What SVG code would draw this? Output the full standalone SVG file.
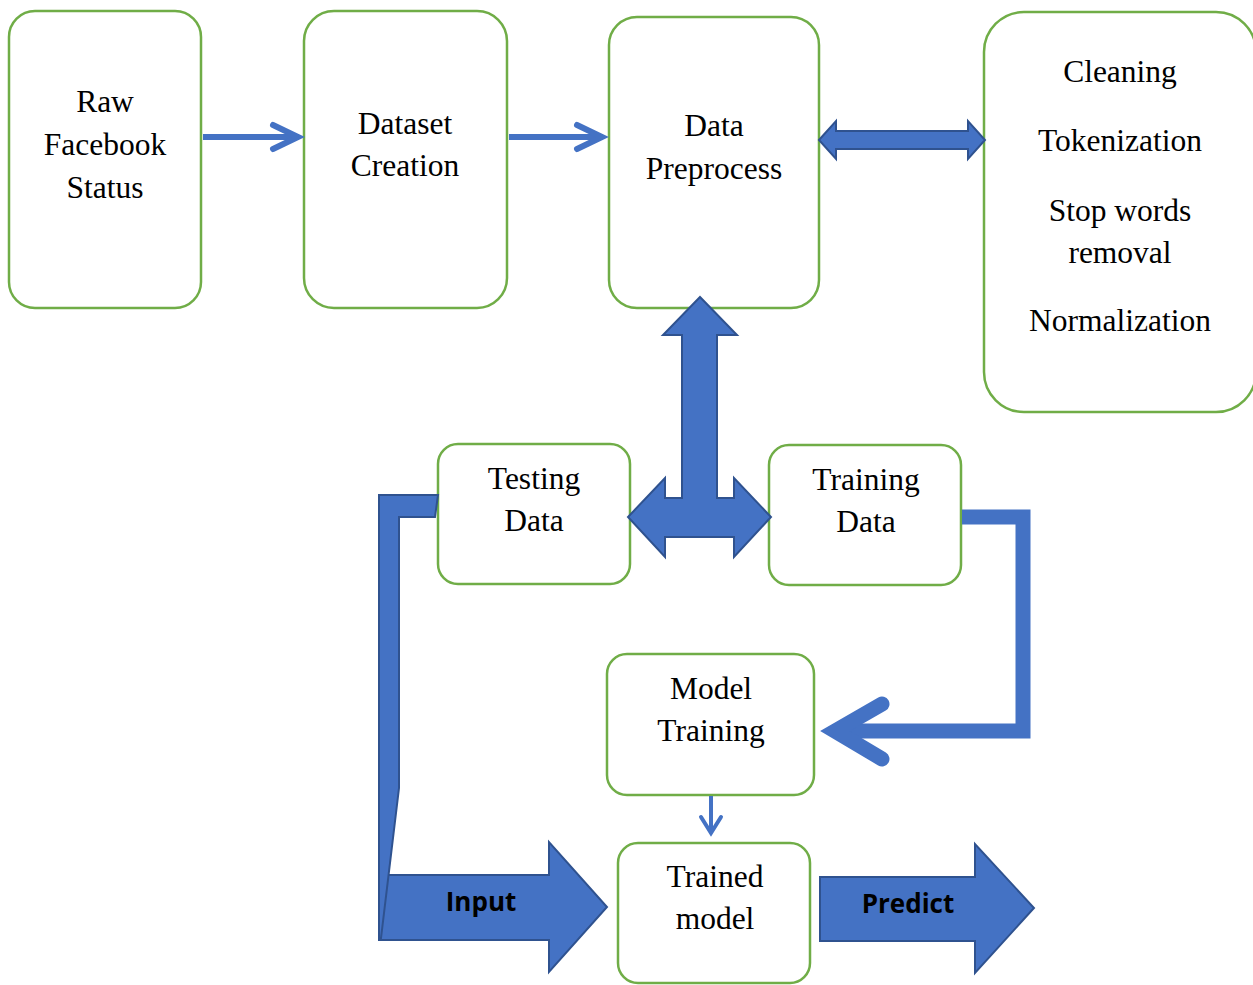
<svg xmlns="http://www.w3.org/2000/svg" width="1253" height="985" viewBox="0 0 1253 985">
<defs>
<style>
.box{fill:#ffffff;stroke:#70AD47;stroke-width:2.5}
.t{font-family:"Liberation Serif","Times New Roman",serif;font-size:31.5px;fill:#000;text-anchor:middle}
.blk{fill:#4472C4;stroke:#2F528F;stroke-width:2;stroke-linejoin:miter}
.ln{fill:none;stroke:#4472C4;stroke-linejoin:miter}
.head{stroke-linecap:round}
.shaft{stroke-linecap:butt}
.lbl{font-family:"Open Sans","Liberation Sans",sans-serif;font-weight:700;font-size:26px;fill:#000;text-anchor:middle}
</style>
</defs>
<rect width="1253" height="985" fill="#ffffff"/>

<g id="raw">
  <rect class="box" x="9" y="11" width="192" height="297" rx="26"/>
  <text class="t" x="105" y="112">Raw</text>
  <text class="t" x="105" y="155">Facebook</text>
  <text class="t" x="105" y="198">Status</text>
</g>
<g id="dataset">
  <rect class="box" x="304" y="11" width="203" height="297" rx="30"/>
  <text class="t" x="405" y="134">Dataset</text>
  <text class="t" x="405" y="176">Creation</text>
</g>
<g id="preprocess">
  <rect class="box" x="609" y="17" width="210" height="291" rx="28"/>
  <text class="t" x="714" y="136">Data</text>
  <text class="t" x="714" y="179">Preprocess</text>
</g>
<g id="steps">
  <rect class="box" x="984" y="12" width="272" height="400" rx="40"/>
  <text class="t" x="1120" y="82">Cleaning</text>
  <text class="t" x="1120" y="151">Tokenization</text>
  <text class="t" x="1120" y="221">Stop words</text>
  <text class="t" x="1120" y="263">removal</text>
  <text class="t" x="1120" y="331">Normalization</text>
</g>
<g id="testing">
  <rect class="box" x="438" y="444" width="192" height="140" rx="20"/>
  <text class="t" x="534" y="489">Testing</text>
  <text class="t" x="534" y="531">Data</text>
</g>
<g id="training">
  <rect class="box" x="769" y="445" width="192" height="140" rx="20"/>
  <text class="t" x="866" y="490">Training</text>
  <text class="t" x="866" y="532">Data</text>
</g>
<g id="modeltraining">
  <rect class="box" x="607" y="654" width="207" height="141" rx="20"/>
  <text class="t" x="711" y="699">Model</text>
  <text class="t" x="711" y="741">Training</text>
</g>
<g id="trained">
  <rect class="box" x="618" y="843" width="192" height="140" rx="20"/>
  <text class="t" x="715" y="887">Trained</text>
  <text class="t" x="715" y="929">model</text>
</g>

<g id="connectors">
  <!-- Raw -> Dataset -->
  <line class="ln shaft" x1="203" y1="137" x2="298" y2="137" stroke-width="6"/>
  <polyline class="ln head" points="273,125 298,137 273,149" stroke-width="6" stroke-linejoin="round"/>
  <!-- Dataset -> Preprocess -->
  <line class="ln shaft" x1="509" y1="137" x2="602" y2="137" stroke-width="6"/>
  <polyline class="ln head" points="577,125 602,137 577,149" stroke-width="6" stroke-linejoin="round"/>
  <!-- Preprocess <-> Steps -->
  <polygon class="blk" points="819,140 836,121 836,131 968,131 968,121 985,140 968,159 968,149 836,149 836,159"/>
  <!-- T-shaped triple arrow -->
  <polygon class="blk" points="700,297 737,335 717,335 717,498 734,498 734,478 771,517 734,557 734,537 665,537 665,557 628,517 665,478 665,498 682,498 682,335 663,335"/>
  <!-- Training -> Model Training -->
  <polyline class="ln shaft" points="962,517 1023,517 1023,731 836,731" stroke-width="15"/>
  <polyline class="ln head" points="882,704 835,731 882,759" stroke-width="15"/>
  <!-- Model Training -> Trained model -->
  <line class="ln shaft" x1="711" y1="796" x2="711" y2="833" stroke-width="4"/>
  <polyline class="ln head" points="701,817 711,833 721,817" stroke-width="4"/>
  <!-- Input arrow -->
  <polygon class="blk" points="379,875 549,875 549,842 607,907 549,972 549,940 379,940"/>
  <!-- Testing -> Input bent connector -->
  <polygon class="blk" points="379,495 438,495 435,517 399,517 399,788 381,938 379,938"/>
  <text class="lbl" x="481" y="911">Input</text>
  <!-- Predict arrow -->
  <polygon class="blk" points="820,877 975,877 975,844 1034,908 975,973 975,941 820,941"/>
  <text class="lbl" x="908" y="913">Predict</text>
</g>
</svg>
